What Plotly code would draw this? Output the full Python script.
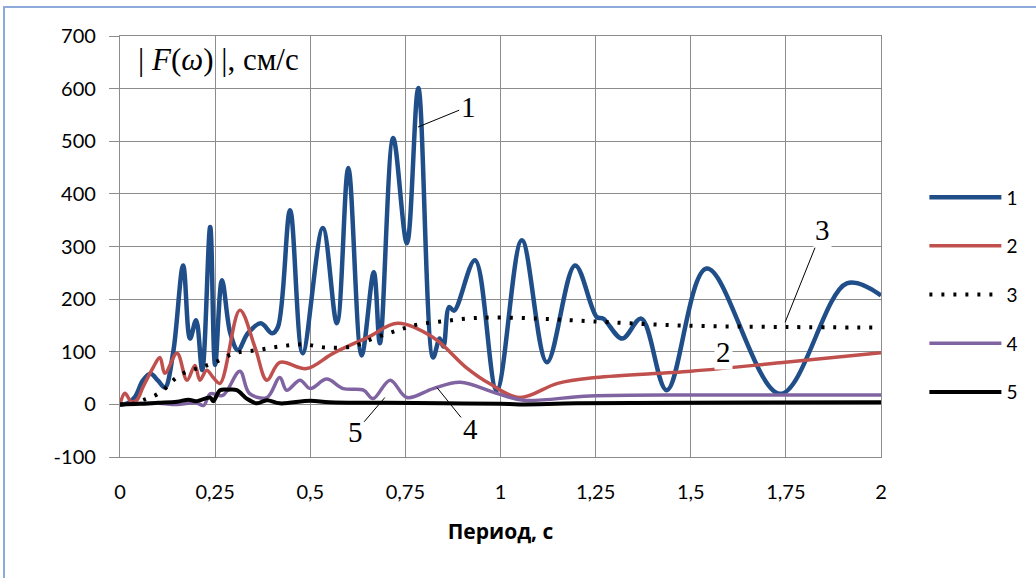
import plotly.graph_objects as go

# ---------------- data ----------------
x1 = [0, 0.02, 0.04, 0.06, 0.08, 0.1, 0.118, 0.14, 0.166, 0.184, 0.2, 0.216, 0.237, 0.25, 0.268,
      0.29, 0.31, 0.336, 0.37, 0.40, 0.415, 0.447, 0.48, 0.533, 0.57, 0.60, 0.635, 0.667, 0.683,
      0.718, 0.754, 0.784, 0.823, 0.84, 0.85, 0.865, 0.878, 0.933, 0.99, 1.056, 1.122, 1.196,
      1.253, 1.27, 1.32, 1.37, 1.437, 1.542, 1.735, 1.91, 2.0]
y1 = [0, 2, 15, 45, 58, 45, 32, 100, 264, 125, 160, 65, 337, 75, 236,
      135, 103, 135, 154, 135, 147, 369, 97, 335, 154, 449, 93, 251, 116,
      506, 306, 601, 89, 125, 110, 185, 178, 274, 27, 312, 80, 264,
      166, 163, 125, 163, 27, 258, 20, 230, 207]

x2 = [0, 0.013, 0.03, 0.044, 0.06, 0.087, 0.105, 0.118, 0.15, 0.176, 0.197, 0.21, 0.228, 0.245,
      0.263, 0.315, 0.355, 0.386, 0.42, 0.49, 0.56, 0.65, 0.73, 0.823, 0.91, 0.97, 1.05, 1.15,
      1.25, 1.5, 1.735, 2.0]
y2 = [0, 21, 5, 8, 32, 70, 89, 59, 97, 46, 74, 46, 65, 51,
      40, 179, 108, 46, 80, 68, 97, 127, 154, 127, 70, 40, 13, 40,
      51, 63, 79, 98]

x3 = [0, 0.04, 0.06, 0.092, 0.118, 0.14, 0.166, 0.197, 0.22, 0.25, 0.30, 0.36, 0.42, 0.48,
      0.543, 0.61, 0.665, 0.727, 0.784, 0.85, 0.91, 0.977, 1.1, 1.235, 1.47, 1.75, 2.0]
y3 = [0, 2, 8, 17, 30, 46, 59, 67, 72, 80, 97, 103, 110, 114,
      108, 110, 125, 140, 152, 158, 163, 165, 163, 158, 150, 147, 146]

x4 = [0, 0.1, 0.15, 0.2, 0.22, 0.237, 0.27, 0.315, 0.34, 0.386, 0.42, 0.438, 0.473, 0.5,
      0.543, 0.587, 0.64, 0.665, 0.71, 0.754, 0.823, 0.894, 0.99, 1.06, 1.235, 1.5, 2.0]
y4 = [0, 2, 0, 3, -2, 20, 17, 63, 21, 13, 51, 27, 46, 30,
      48, 30, 27, 11, 46, 13, 30, 42, 21, 8, 16, 18, 18]

x5 = [0, 0.05, 0.1, 0.15, 0.18, 0.2, 0.237, 0.245, 0.263, 0.285, 0.307, 0.333, 0.36, 0.386,
      0.42, 0.5, 0.55, 0.7, 0.85, 1.0, 1.05, 1.2, 1.5, 2.0]
y5 = [0, 1, 3, 5, 9, 6, 13, 6, 27, 28, 27, 11, 2, 8,
      2, 7, 4, 3, 2, 1, 0, 2, 3, 4]

series_names = ["1", "2", "3", "4", "5"]

x_tick_vals = [0, 0.25, 0.5, 0.75, 1, 1.25, 1.5, 1.75, 2]
x_tick_text = ["0", "0,25", "0,5", "0,75", "1", "1,25", "1,5", "1,75", "2"]
y_tick_vals = [-100, 0, 100, 200, 300, 400, 500, 600, 700]
y_tick_text = ["-100", "0", "100", "200", "300", "400", "500", "600", "700"]

# callout labels: (text, point x, point y, text x, text y)
callouts = [("1", 0.783, 527, 0.915, 566),
            ("3", 1.748, 156, 1.845, 331),
            ("4", 0.833, 32, 0.92, -46),
            ("5", 0.696, 13, 0.618, -53)]

# ---------------- styles ----------------
styles = [dict(color="#1F4E89", width=4.5),
          dict(color="#C0504D", width=3.5),
          dict(color="#000000", width=4, dash="3px,9px"),
          dict(color="#8064A2", width=3.5),
          dict(color="#000000", width=4)]

GRID = "#8C8C8C"
TICKFONT = dict(family="Lato", size=20, color="#000000")

fig = go.Figure()
for name, xs, ys, st in zip(series_names, [x1, x2, x3, x4, x5], [y1, y2, y3, y4, y5], styles):
    fig.add_trace(go.Scatter(x=xs, y=ys, mode="lines", name=name, legendgroup=name,
                             line=dict(shape="spline", smoothing=1.0, **st)))

fig.update_layout(
    width=1036, height=578,
    margin=dict(l=120, r=155, t=36, b=121),
    paper_bgcolor="white", plot_bgcolor="white",
    showlegend=True,
    legend=dict(x=1.057, xanchor="left", y=0.662, yanchor="top",
                font=dict(family="Lato", size=19, color="#000000"),
                itemwidth=72, tracegroupgap=21, bgcolor="rgba(0,0,0,0)"),
    xaxis=dict(range=[0, 2], tickvals=x_tick_vals, ticktext=x_tick_text,
               showgrid=True, gridcolor=GRID, gridwidth=1.3, zeroline=False,
               showline=True, linecolor=GRID, linewidth=1.3, mirror=True,
               ticks="", tickfont=TICKFONT, ticklabelstandoff=17,
               title=dict(text="<b>Период, с</b>", font=dict(family="Open Sans", size=21, color="#000000"),
                          standoff=22)),
    yaxis=dict(range=[-100, 700], tickvals=y_tick_vals, ticktext=y_tick_text,
               showgrid=True, gridcolor=GRID, gridwidth=1.3, zeroline=False,
               showline=True, linecolor=GRID, linewidth=1.3, mirror=True,
               ticks="outside", ticklen=10, tickcolor=GRID, tickwidth=1.3,
               tickfont=TICKFONT, ticklabelstandoff=9),
)

# white box behind the y title inside the plot
fig.add_shape(type="rect", xref="x", yref="y", x0=0.003, x1=0.74, y0=603, y1=698,
              fillcolor="white", line=dict(width=0), layer="below")
fig.add_annotation(xref="paper", yref="paper", x=0.021, y=0.943, xanchor="left", yanchor="middle",
                   text="| <i>F</i>(<i>ω</i>) |, см/с", showarrow=False,
                   font=dict(family="Liberation Serif", size=31, color="#000000"))

for txt, px, py, tx, ty in callouts:
    fig.add_annotation(x=px, y=py, ax=tx, ay=ty, axref="x", ayref="y", text=txt,
                       showarrow=True, arrowhead=0, arrowwidth=1, arrowcolor="#000000",
                       bgcolor="white", font=dict(family="Liberation Serif", size=29, color="#000000"))
fig.add_annotation(x=1.585, y=99, text="2", showarrow=False, bgcolor="white",
                   font=dict(family="Liberation Serif", size=29, color="#000000"))

# outer chart frame
fig.add_shape(type="rect", xref="paper", yref="paper", x0=-0.1524, x1=1.21, y0=-0.3, y1=1.0689,
              line=dict(color="#8EAADB", width=2), fillcolor="rgba(0,0,0,0)")

fig.write_html("out.html")
